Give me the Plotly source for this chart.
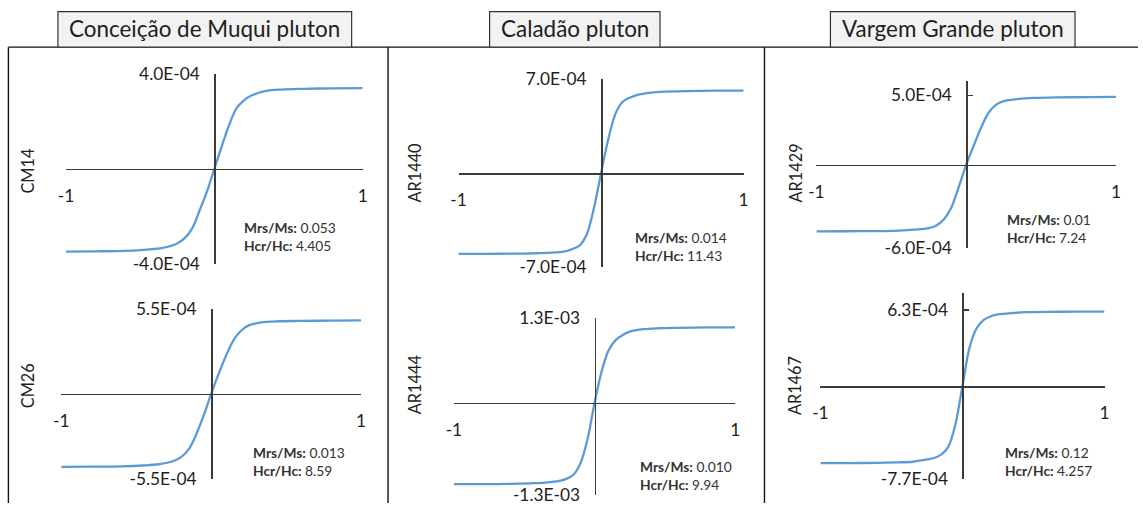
import plotly.graph_objects as go

# ---------------- data ----------------
FIELD = [-1, -0.8, -0.6, -0.45, -0.35, -0.25, -0.2, -0.15, -0.1, -0.05, 0,
         0.05, 0.1, 0.15, 0.2, 0.25, 0.35, 0.45, 0.6, 0.8, 1]

CM14 = [-3.46e-4, -3.45e-4, -3.43e-4, -3.38e-4, -3.31e-4, -3.12e-4, -2.90e-4, -2.50e-4, -1.75e-4, -0.95e-4, 0.0,
        0.95e-4, 1.85e-4, 2.55e-4, 2.88e-4, 3.08e-4, 3.27e-4, 3.33e-4, 3.36e-4, 3.38e-4, 3.39e-4]
CM26 = [-4.73e-4, -4.72e-4, -4.70e-4, -4.64e-4, -4.56e-4, -4.35e-4, -4.10e-4, -3.60e-4, -2.65e-4, -1.40e-4, 0.0,
        1.30e-4, 2.50e-4, 3.50e-4, 4.10e-4, 4.45e-4, 4.66e-4, 4.72e-4, 4.74e-4, 4.76e-4, 4.77e-4]
AR1440 = [-6.01e-4, -6.01e-4, -6.00e-4, -5.97e-4, -5.93e-4, -5.82e-4, -5.65e-4, -5.38e-4, -4.55e-4, -2.60e-4, 0.0,
          2.50e-4, 4.40e-4, 5.30e-4, 5.62e-4, 5.82e-4, 6.00e-4, 6.07e-4, 6.11e-4, 6.14e-4, 6.15e-4]
AR1444 = [-1.188e-3, -1.187e-3, -1.184e-3, -1.175e-3, -1.165e-3, -1.140e-3, -1.110e-3, -1.050e-3, -0.880e-3, -0.530e-3, 0.0,
          0.460e-3, 0.770e-3, 0.920e-3, 0.995e-3, 1.045e-3, 1.080e-3, 1.093e-3, 1.100e-3, 1.105e-3, 1.106e-3]
AR1429 = [-4.81e-4, -4.80e-4, -4.79e-4, -4.75e-4, -4.69e-4, -4.57e-4, -4.38e-4, -3.95e-4, -3.10e-4, -1.60e-4, 0.0,
          1.38e-4, 2.70e-4, 3.76e-4, 4.33e-4, 4.58e-4, 4.74e-4, 4.81e-4, 4.85e-4, 4.87e-4, 4.89e-4]
AR1467 = [-6.41e-4, -6.40e-4, -6.38e-4, -6.34e-4, -6.29e-4, -6.10e-4, -5.98e-4, -5.70e-4, -5.05e-4, -3.20e-4, 0.0,
          3.20e-4, 4.80e-4, 5.50e-4, 5.80e-4, 5.95e-4, 6.07e-4, 6.14e-4, 6.17e-4, 6.18e-4, 6.19e-4]

PLUTONS = ["Conceição de Muqui pluton", "Caladão pluton", "Vargem Grande pluton"]
SAMPLES = ["CM14", "CM26", "AR1440", "AR1444", "AR1429", "AR1467"]
SERIES = [CM14, CM26, AR1440, AR1444, AR1429, AR1467]
MRS_MS = ["0.053", "0.013", "0.014", "0.010", "0.01", "0.12"]
HCR_HC = ["4.405", "8.59", "11.43", "9.94", "7.24", "4.257"]

Y_MIN = [-4.0e-4, -5.5e-4, -7.0e-4, -1.34e-3, -6.0e-4, -7.7e-4]
Y_MAX = [4.0e-4, 5.5e-4, 7.0e-4, 1.25e-3, 6.0e-4, 7.7e-4]
Y_TICK_LOW = [-4.0e-4, -5.5e-4, -7.0e-4, -1.34e-3, -6.0e-4, -7.7e-4]
Y_TICK_HIGH = [4.0e-4, 5.5e-4, 7.0e-4, 1.25e-3, 5.0e-4, 6.3e-4]
Y_LABEL_LOW = ["-4.0E-04", "-5.5E-04", "-7.0E-04", "-1.3E-03", "-6.0E-04", "-7.7E-04"]
Y_LABEL_HIGH = ["4.0E-04", "5.5E-04", "7.0E-04", "1.3E-03", "5.0E-04", "6.3E-04"]
X_TICKS = [-1, 1]
X_LABELS = ["-1", "1"]

# ---------------- layout geometry (target picture pixels) ----------------
W, H = 1143, 513
# the page shows the figure inside an 8px body margin and is then fitted back to W x H
PAGE_MARGIN = 8
SX, SY = (W + 2 * PAGE_MARGIN) / W, (H + 2 * PAGE_MARGIN) / H

X_DOM_PX = [(65.7, 361.7), (61, 360), (457.3, 741.7), (452.7, 733.3), (814.3, 1113.3), (818.3, 1101.7)]
Y_DOM_PX = [(71, 264), (309.3, 480.7), (76.7, 266.7), (317.7, 496.7), (79, 247.3), (293.3, 480.7)]
LABEL_POS_PX = [(27, 170), (27, 387), (413, 172), (413, 386), (793, 172), (792, 387)]
STATS_POS_PX = [(241.5, 216), (250, 444), (631, 226), (636.5, 458), (1002.5, 207.5), (1000.5, 444)]
TITLE_BOX_PX = [(57.7, 350.7), (488.3, 658.3), (828.3, 1072.3)]
TITLE_BOX_Y_PX = (8.3, 44.3)
TITLE_TEXT_Y_PX = 25
COL_X_PX = [8.3, 387, 762.5]
COL_TOP_PX = 44.3

FONT = "Lato, Carlito, 'Open Sans', sans-serif"
FS = 1.02  # font compensation for the fit-back scaling
BLUE = "#5b9bd5"
AXIS = "#3a3a3a"
TXT = "#1e1e1e"


def fx(px):
    return (px * SX - PAGE_MARGIN) / W


def fy(py):
    return 1 - (py * SY - PAGE_MARGIN) / H


fig = go.Figure()
layout = {}
annotations = []
shapes = []

for i in range(6):
    n = "" if i == 0 else str(i + 1)
    fig.add_trace(go.Scatter(
        x=FIELD, y=SERIES[i], mode="lines",
        line=dict(color=BLUE, width=2.3, shape="spline", smoothing=0.9),
        xaxis="x" + n, yaxis="y" + n, showlegend=False, hoverinfo="skip"))

    x0, x1 = X_DOM_PX[i]
    yt, yb = Y_DOM_PX[i]
    ymin, ymax = Y_MIN[i], Y_MAX[i]
    zero_py = yt + (ymax - 0) / (ymax - ymin) * (yb - yt)
    zero_px = (x0 + x1) / 2

    layout["xaxis" + n] = dict(
        domain=[fx(x0), fx(x1)], range=[-1, 1], anchor="free", position=fy(zero_py),
        showline=True, linecolor=AXIS, linewidth=1.5, ticks="inside", ticklen=5,
        tickwidth=1.5, tickcolor=AXIS, tickvals=X_TICKS, ticktext=X_LABELS,
        tickfont=dict(family=FONT, size=17 * FS, color=TXT), ticklabelstandoff=11,
        showgrid=False, zeroline=False, fixedrange=True)
    layout["yaxis" + n] = dict(
        domain=[fy(yb), fy(yt)], range=[ymin, ymax], anchor="free", position=fx(zero_px),
        side="left", showline=True, linecolor=AXIS, linewidth=1.5, ticks="inside",
        ticklen=5, tickwidth=1.5, tickcolor=AXIS,
        tickvals=[Y_TICK_LOW[i], Y_TICK_HIGH[i]], ticktext=[Y_LABEL_LOW[i], Y_LABEL_HIGH[i]],
        tickfont=dict(family=FONT, size=17 * FS, color=TXT), ticklabelstandoff=11,
        showgrid=False, zeroline=False, fixedrange=True)

    lx, ly = LABEL_POS_PX[i]
    annotations.append(dict(
        x=fx(lx), y=fy(ly), xref="paper", yref="paper", text=SAMPLES[i],
        textangle=-90, showarrow=False, xanchor="center", yanchor="middle",
        font=dict(family=FONT, size=16 * FS, color=TXT)))

    sx, sy = STATS_POS_PX[i]
    annotations.append(dict(
        x=fx(sx), y=fy(sy), xref="paper", yref="paper",
        text=f"<b>Mrs/Ms:</b> {MRS_MS[i]}<br><b>Hcr/Hc:</b> {HCR_HC[i]}",
        showarrow=False, xanchor="left", yanchor="top", align="left",
        font=dict(family=FONT, size=13.5 * FS, color="#333333")))

# column frames
for cx in COL_X_PX:
    shapes.append(dict(type="line", xref="paper", yref="paper",
                       x0=fx(cx), x1=fx(cx), y0=fy(COL_TOP_PX), y1=0,
                       line=dict(color="#111111", width=1.4)))
shapes.append(dict(type="line", xref="paper", yref="paper",
                   x0=fx(COL_X_PX[0]), x1=1, y0=fy(COL_TOP_PX), y1=fy(COL_TOP_PX),
                   line=dict(color="#111111", width=1.4)))

# title boxes
for j, (bx0, bx1) in enumerate(TITLE_BOX_PX):
    shapes.append(dict(type="rect", xref="paper", yref="paper",
                       x0=fx(bx0), x1=fx(bx1), y0=fy(TITLE_BOX_Y_PX[1]), y1=fy(TITLE_BOX_Y_PX[0]),
                       fillcolor="#f2f2f2", line=dict(color="#333333", width=1.2)))
    annotations.append(dict(
        x=fx((bx0 + bx1) / 2), y=fy(TITLE_TEXT_Y_PX),
        xref="paper", yref="paper", text=PLUTONS[j], showarrow=False,
        xanchor="center", yanchor="middle",
        font=dict(family=FONT, size=22 * FS, color=TXT)))

fig.update_layout(
    width=W, height=H, margin=dict(l=0, r=0, t=0, b=0),
    paper_bgcolor="white", plot_bgcolor="white", dragmode=False,
    annotations=annotations, shapes=shapes, **layout)

fig.write_html("out.html", include_plotlyjs=True, full_html=True,
               config={"displayModeBar": False, "staticPlot": True})
